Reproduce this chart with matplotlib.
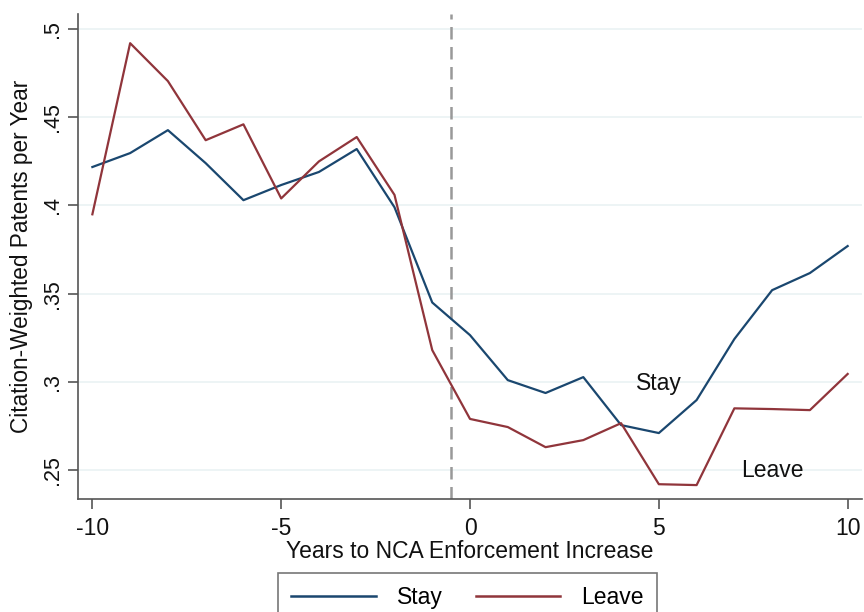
import matplotlib.pyplot as plt
import numpy as np

years = list(range(-10, 11))
stay = [0.4218, 0.4297, 0.4427, 0.4240, 0.4030, 0.4116, 0.4190, 0.4320, 0.3990,
        0.3450, 0.3265, 0.3010, 0.2937, 0.3027, 0.2755, 0.2710, 0.2897, 0.3243,
        0.3520, 0.3617, 0.3770]
leave = [0.3950, 0.4920, 0.4705, 0.4370, 0.4460, 0.4040, 0.4250, 0.4388, 0.4060,
         0.3180, 0.2790, 0.2744, 0.2630, 0.2670, 0.2766, 0.2420, 0.2415, 0.2850,
         0.2846, 0.2840, 0.3045]
yticks = [0.25, 0.3, 0.35, 0.4, 0.45, 0.5]
ytick_labels = [".25", ".3", ".35", ".4", ".45", ".5"]
xticks = [-10, -5, 0, 5, 10]

navy = "#1a476f"
maroon = "#90353b"

plt.rcParams['font.family'] = ['Liberation Sans', 'DejaVu Sans']

fig = plt.figure(figsize=(8.64, 6.12), dpi=100)
ax = fig.add_axes([0.0903, 0.1846, 0.9074, 0.7924])

# light horizontal grid at each y tick
for v in yticks:
    ax.axhline(v, color="#eaf2f3", lw=1.2, zorder=0)

ax.axvline(-0.5, color="#999999", lw=1.8, ls=(0, (5, 3)), zorder=1)

ax.plot(years, stay, color=navy, lw=1.6, label="Stay", zorder=3)
ax.plot(years, leave, color=maroon, lw=1.6, label="Leave", zorder=3)

ax.text(5.0, 0.2993, "Stay", fontsize=16.5, ha="center", va="center", color="#111111")
ax.text(8.0, 0.2495, "Leave", fontsize=16.5, ha="center", va="center", color="#111111")

ax.set_xlim(-10.38, 10.38)
ax.set_ylim(0.2336, 0.5085)
ax.set_xticks(xticks)
ax.set_xticklabels([str(t) for t in xticks])
ax.set_yticks(yticks)
ax.set_yticklabels(ytick_labels, rotation=90, va="center")

for s in ["top", "right"]:
    ax.spines[s].set_visible(False)
for s in ["left", "bottom"]:
    ax.spines[s].set_color("#555555")
    ax.spines[s].set_linewidth(1.2)
ax.tick_params(axis="both", colors="#555555", labelcolor="#111111", length=7, width=1.2)
ax.tick_params(axis="x", labelsize=16.5, pad=6)
ax.tick_params(axis="y", labelsize=15.5, pad=4)

ax.set_xlabel("Years to NCA Enforcement Increase", fontsize=16.5, color="#111111", labelpad=0)
ax.set_ylabel("Citation-Weighted Patents per Year", fontsize=16.3, color="#111111", labelpad=6)

leg = fig.legend(loc="upper center", bbox_to_anchor=(0.541, 0.083), ncol=2,
                 fontsize=16.5, handlelength=3.67, handletextpad=0.92, columnspacing=1.45,
                 frameon=True, fancybox=False, borderpad=0.6)
leg.get_frame().set_edgecolor("#555555")
leg.get_frame().set_linewidth(1.2)
for h in leg.get_lines():
    h.set_linewidth(1.8)

fig.savefig("out.png", dpi=100)
